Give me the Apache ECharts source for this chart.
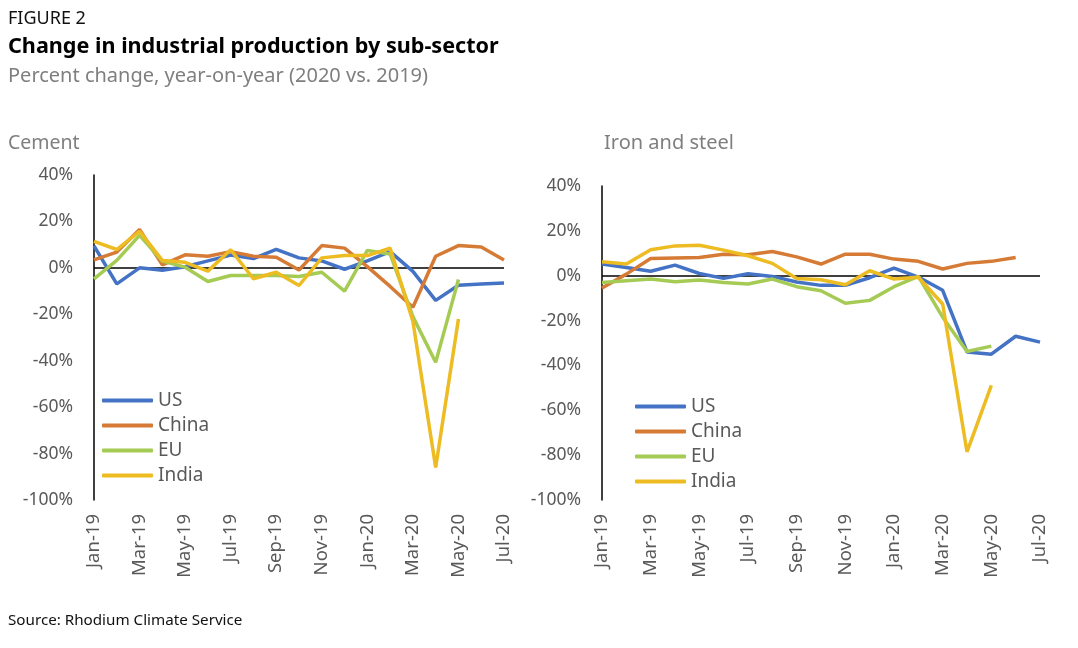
<!DOCTYPE html>
<html>
<head>
<meta charset="utf-8">
<script src="https://cdn.jsdelivr.net/npm/echarts@6/dist/echarts.min.js"></script>
<style>html,body{margin:0;padding:0;background:#fff}#c{width:1078px;height:648px}</style>
</head>
<body>
<div id="c"></div>
<script>
const months = ['Jan-19','Feb-19','Mar-19','Apr-19','May-19','Jun-19','Jul-19','Aug-19','Sep-19','Oct-19','Nov-19','Dec-19','Jan-20','Feb-20','Mar-20','Apr-20','May-20','Jun-20','Jul-20'];
const seriesNames = ['US','China','EU','India'];
const colors = ['#4472C4','#D57B35','#A5CB55','#EDBB22'];
const yTicks = {min:-100, max:40, interval:20};

// Cement
const cementUS    = [9.5,-6.9,0,-1,0.5,3,5.5,4,8,4.3,3,-0.6,3,7,-1.5,-14,-7.5,-7,-6.5];
const cementChina = [3.4,6.8,16.5,1.3,5.6,5,7,5,4.6,-0.9,9.6,8.5,0.5,-8,-17,5,9.6,9,3.4];
const cementEU    = [-4.7,3.2,14,2.9,0.3,-5.9,-3.3,-3.3,-3.3,-3.7,-1.9,-10,7.5,6,-21,-40.7,-5,null,null];
const cementIndia = [11.4,7.9,15.7,3.2,2.4,-1.4,7.8,-4.7,-1.9,-7.6,4.3,5.3,5.3,8.5,-23,-86,-22,null,null];

// Iron and steel
const steelUS    = [5.2,3.7,2,4.7,1,-1.2,0.9,-0.3,-2.8,-4.3,-4.3,-0.9,3.4,-0.6,-6.5,-34,-35,-27,-29.6];
const steelChina = [-5.5,0.7,7.7,7.9,8.1,9.6,9.3,10.8,8.4,5.2,9.6,9.6,7.4,6.4,3,5.5,6.4,8.1,null];
const steelEU    = [-3,-2.2,-1.5,-2.7,-1.9,-3,-3.7,-1.5,-4.9,-6.7,-12.3,-11,-4.9,-0.3,-18.5,-33.8,-31.4,null,null];
const steelIndia = [6.2,5.2,11.6,13.3,13.6,11.4,8.9,5.5,-1.2,-1.8,-4,2.2,-1.5,-0.7,-12.6,-78.5,-48.9,null,null];

const cementData = [cementUS, cementChina, cementEU, cementIndia];
const steelData = [steelUS, steelChina, steelEU, steelIndia];

const FONT = 'Noto Sans';
const gray = '#595959';

function xAxisFor(gi){
  return {
    type:'category', gridIndex:gi, data:months, boundaryGap:false,
    axisLine:{show:false}, axisTick:{show:false},
    axisLabel:{rotate:90, interval:1, fontSize:18.5, color:gray, fontFamily:FONT, margin:14}
  };
}
function yAxisFor(gi){
  return {
    type:'value', gridIndex:gi, min:yTicks.min, max:yTicks.max, interval:yTicks.interval,
    splitLine:{show:false}, axisTick:{show:false},
    axisLine:{show:true, lineStyle:{color:'#000', width:1.5}},
    axisLabel:{formatter:'{value}%', fontSize:17.5, color:gray, fontFamily:FONT, margin:21}
  };
}
const series = [];
[cementData, steelData].forEach((set, gi) => {
  set.forEach((arr, k) => {
    const s = {
      name: seriesNames[k], type:'line', xAxisIndex:gi, yAxisIndex:gi,
      data: arr, symbol:'none', connectNulls:false,
      lineStyle:{width:3.5, color:colors[k]}, itemStyle:{color:colors[k]},
      z: 3 + k
    };
    if (k === 0) {
      s.markLine = {silent:true, symbol:'none', label:{show:false},
        lineStyle:{color:'#000', width:1.5, type:'solid'}, data:[{yAxis:0}], z:1};
    }
    series.push(s);
  });
});

function legendFor(left, top){
  return {
    orient:'vertical', left:left, top:top, data:seriesNames,
    icon:'roundRect', itemWidth:51, itemHeight:4, itemGap:6,
    textStyle:{fontSize:19, color:gray, fontFamily:FONT, padding:[0,0,0,0]}, selectedMode:false
  };
}

const chart = echarts.init(document.getElementById('c'), null, {renderer:'canvas'});
chart.setOption({
  animation:false,
  textStyle:{fontFamily:FONT},
  title:[
    {text:'FIGURE 2', left:3, top:5, textStyle:{fontSize:18, fontWeight:'normal', color:'#111', fontFamily:FONT}},
    {text:'Change in industrial production by sub-sector', left:3, top:31, textStyle:{fontSize:21.6, fontWeight:'bold', color:'#000', fontFamily:FONT}},
    {text:'Percent change, year-on-year (2020 vs. 2019)', left:3, top:61, textStyle:{fontSize:20, fontWeight:'normal', color:'#7f7f7f', fontFamily:FONT}},
    {text:'Cement', left:3, top:128, textStyle:{fontSize:19.5, fontWeight:'normal', color:'#7f7f7f', fontFamily:FONT}},
    {text:'Iron and steel', left:599, top:128, textStyle:{fontSize:20, fontWeight:'normal', color:'#7f7f7f', fontFamily:FONT}},
    {text:'Source: Rhodium Climate Service', left:3, top:608, textStyle:{fontSize:15.2, fontWeight:'normal', color:'#111', fontFamily:FONT}}
  ],
  legend:[legendFor(97, 386), legendFor(630, 392)],
  grid:[
    {left:94, right:574, top:175, bottom:148, containLabel:false},
    {left:602, right:38, top:186, bottom:148, containLabel:false}
  ],
  xAxis:[xAxisFor(0), xAxisFor(1)],
  yAxis:[yAxisFor(0), yAxisFor(1)],
  series: series
});
</script>
</body>
</html>
